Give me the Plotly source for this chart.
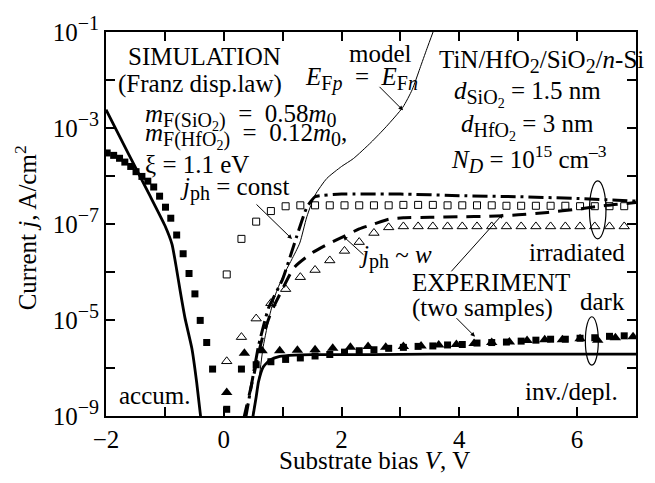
import plotly.graph_objects as go

# ---------------- data (current density j in A/cm^2) ----------------
# experiment, dark: filled squares
dark_sq_x = [-1.98, -1.87, -1.77, -1.68, -1.58, -1.49, -1.39, -1.29, -1.19, -1.09,
             -0.99, -0.90, -0.80, -0.69, -0.59, -0.49, -0.40, -0.29, -0.19,
             0.05, 0.30, 0.55, 0.80, 1.05, 1.30, 1.55, 1.80, 2.05, 2.30, 2.55, 2.80,
             3.05, 3.30, 3.55, 3.80, 4.05, 4.30, 4.55, 4.80, 5.05, 5.30, 5.55, 5.80,
             6.05, 6.30, 6.55, 6.80]
dark_sq_j = [3.02e-4, 2.69e-4, 2.34e-4, 1.95e-4, 1.58e-4, 1.23e-4, 9.8e-5, 7.8e-5, 5.9e-5, 3.8e-5,
             2.24e-5, 1.32e-5, 5.9e-6, 2.4e-6, 9.3e-7, 3.5e-7, 9.8e-8, 3.4e-8, 9.5e-9,
             1.38e-9, 9.5e-9, 1.17e-8, 1.35e-8, 1.51e-8, 1.62e-8, 1.78e-8, 1.91e-8, 2.14e-8, 2.29e-8, 2.40e-8, 2.57e-8,
             2.69e-8, 2.82e-8, 2.88e-8, 3.02e-8, 3.09e-8, 3.31e-8, 3.39e-8, 3.47e-8, 3.63e-8, 3.80e-8, 3.98e-8, 3.98e-8,
             4.17e-8, 4.27e-8, 4.57e-8, 4.68e-8]

# experiment, dark: filled triangles
dark_tri_x = [0.05, 0.35, 0.65, 0.95, 1.25, 1.55, 1.85, 2.15, 2.45, 2.75, 3.05, 3.35,
              3.65, 3.95, 4.25, 4.55, 4.85, 5.15, 5.45, 5.75, 6.05, 6.35, 6.65, 6.95]
dark_tri_j = [3.1e-9, 2.04e-8, 2.29e-8, 2.29e-8, 2.34e-8, 2.40e-8, 2.57e-8, 2.69e-8, 2.82e-8, 2.69e-8, 2.82e-8, 2.88e-8,
              3.02e-8, 3.09e-8, 3.24e-8, 3.39e-8, 3.47e-8, 3.72e-8, 3.89e-8, 3.89e-8, 4.07e-8, 3.80e-8, 4.27e-8, 4.47e-8]

# experiment, irradiated: open squares
irr_sq_x = [0.05, 0.30, 0.55, 0.80, 1.05, 1.30, 1.55, 1.80, 2.05, 2.30, 2.55, 2.80, 3.05, 3.30,
            3.55, 3.80, 4.05, 4.30, 4.55, 4.80, 5.05, 5.30, 5.55, 5.80, 6.05, 6.30, 6.55, 6.80]
irr_sq_j = [8.9e-7, 4.9e-6, 1.12e-5, 1.86e-5, 2.34e-5, 2.45e-5, 2.45e-5, 2.45e-5, 2.45e-5, 2.45e-5, 2.45e-5, 2.45e-5, 2.50e-5, 2.50e-5,
            2.50e-5, 2.45e-5, 2.45e-5, 2.45e-5, 2.45e-5, 2.40e-5, 2.40e-5, 2.40e-5, 2.40e-5, 2.40e-5, 2.35e-5, 2.35e-5, 2.35e-5, 2.35e-5]

# experiment, irradiated: open triangles
irr_tri_x = [0.05, 0.30, 0.55, 0.80, 1.05, 1.30, 1.55, 1.80, 2.05, 2.30, 2.55, 2.80, 3.05, 3.30,
             3.55, 3.80, 4.05, 4.30, 4.55, 4.80, 5.05, 5.30, 5.55, 5.80, 6.05, 6.30, 6.55, 6.80]
irr_tri_j = [1.38e-8, 4.4e-8, 1.07e-7, 2.24e-7, 4.4e-7, 7.8e-7, 1.10e-6, 1.74e-6, 2.75e-6, 4.2e-6, 6.5e-6, 8.5e-6, 8.9e-6, 8.9e-6,
             8.9e-6, 8.9e-6, 8.9e-6, 8.9e-6, 8.9e-6, 8.9e-6, 8.9e-6, 8.9e-6, 8.9e-6, 8.9e-6, 8.9e-6, 8.9e-6, 8.9e-6, 8.9e-6]

# simulation, dark (thick solid), accumulation and inversion branches
sim_dark_left_x = [-2.0, -1.75, -1.5, -1.25, -1.0, -0.88, -0.80, -0.74, -0.66, -0.54, -0.46, -0.39]
sim_dark_left_j = [2.4e-3, 6.0e-4, 1.51e-4, 3.8e-5, 9.3e-6, 3.8e-6, 1.12e-6, 4.0e-7, 1.12e-7, 2.5e-8, 5.0e-9, 9.0e-10]
sim_dark_right_x = [0.49, 0.55, 0.59, 0.67, 0.78, 0.95, 1.2, 1.5, 2.5, 3.5, 5.0, 7.0]
sim_dark_right_j = [8.9e-10, 2.5e-9, 5.2e-9, 1.05e-8, 1.45e-8, 1.74e-8, 1.86e-8, 1.90e-8, 1.90e-8, 1.95e-8, 1.95e-8, 1.95e-8]

# simulation, model E_Fp = E_Fn (thin solid)
model_x = [0.48, 0.59, 0.67, 0.78, 0.87, 1.0, 1.15, 1.29, 1.41, 1.55, 1.75, 2.0, 2.2, 2.5,
           2.76, 3.04, 3.2, 3.33, 3.45, 3.56]
model_j = [8.9e-10, 5.0e-9, 2.8e-8, 1.26e-7, 3.2e-7, 7.9e-7, 1.78e-6, 4.0e-6, 1.41e-5, 4.0e-5,
           8.9e-5, 1.58e-4, 2.3e-4, 5.0e-4, 1.07e-3, 2.7e-3, 6.3e-3, 1.74e-2, 4.5e-2, 1.05e-1]

# simulation, irradiated, j_ph = const (dash-dot)
const_x = [0.37, 0.45, 0.59, 0.76, 1.0, 1.24, 1.41, 1.55, 2.0, 3.0, 4.0, 5.0, 6.0, 7.0]
const_j = [8.9e-10, 3.2e-9, 2.9e-8, 1.78e-7, 7.1e-7, 5.6e-6, 2.24e-5, 3.7e-5, 4.2e-5, 4.2e-5, 3.9e-5, 3.7e-5, 3.4e-5, 3.0e-5]

# simulation, irradiated, j_ph ~ w (dashed)
w_x = [0.34, 0.5, 0.65, 0.8, 0.98, 1.2, 1.5, 1.8, 2.05, 2.3, 2.55, 2.8, 3.05, 3.5, 4.0, 4.5,
       5.0, 5.5, 6.0, 6.5, 7.0]
w_j = [8.9e-10, 6.3e-9, 4.0e-8, 1.41e-7, 4.0e-7, 1.26e-6, 2.5e-6, 4.0e-6, 5.6e-6, 7.9e-6, 1.0e-5,
       1.26e-5, 1.35e-5, 1.38e-5, 1.41e-5, 1.45e-5, 1.55e-5, 1.74e-5, 2.04e-5, 2.45e-5, 2.8e-5]

x_tickvals = [-2, -1, 0, 1, 2, 3, 4, 5, 6]
x_ticktext = ["\u22122", "", "0", "", "2", "", "4", "", "6"]
y_tickvals = [1e-9, 1e-8, 1e-7, 1e-6, 1e-5, 1e-4, 1e-3, 1e-2, 1e-1]
y_tick_exponents = ["\u22129", "", "\u22125", "", "\u22127", "", "\u22123", "", "\u22121"]

# ---------------- figure ----------------
FONT = "Liberation Serif"
FS = 25
W, H = 655, 483
L, R, T, B = 106, 636, 19, 416

y_ticktext = [("10<sup><span style='font-size:20px'>%s</span></sup>" % e) if e else "" for e in y_tick_exponents]

fig = go.Figure()

fig.add_trace(go.Scatter(x=sim_dark_left_x, y=sim_dark_left_j, mode="lines",
                         line=dict(color="black", width=2.8, shape="spline", smoothing=0.5)))
fig.add_trace(go.Scatter(x=sim_dark_right_x, y=sim_dark_right_j, mode="lines",
                         line=dict(color="black", width=2.8, shape="spline", smoothing=0.5)))
fig.add_trace(go.Scatter(x=model_x, y=model_j, mode="lines",
                         line=dict(color="black", width=1, shape="spline", smoothing=0.6)))
fig.add_trace(go.Scatter(x=const_x, y=const_j, mode="lines",
                         line=dict(color="black", width=3, dash="15px,5px,3px,5px", shape="spline", smoothing=0.4)))
fig.add_trace(go.Scatter(x=w_x, y=w_j, mode="lines",
                         line=dict(color="black", width=3, dash="14px,9px", shape="spline", smoothing=0.6)))

fig.add_trace(go.Scatter(x=irr_sq_x, y=irr_sq_j, mode="markers",
                         marker=dict(symbol="square-open", size=7, color="black", line=dict(width=1))))
fig.add_trace(go.Scatter(x=irr_tri_x, y=irr_tri_j, mode="markers",
                         marker=dict(symbol="triangle-up-open", size=9, color="black", line=dict(width=1))))
fig.add_trace(go.Scatter(x=dark_sq_x, y=dark_sq_j, mode="markers",
                         marker=dict(symbol="square", size=7, color="black")))
fig.add_trace(go.Scatter(x=dark_tri_x, y=dark_tri_j, mode="markers",
                         marker=dict(symbol="triangle-up", size=10, color="black")))


def P(xp, yp):
    return (xp - L) / (R - L), (B - yp) / (B - T)


def sb(s, size=20):
    return "<sub><span style='font-size:%dpx'>%s</span></sub>" % (size, s)


annots = []


def text(s, xp, yp, xanchor="center", size=FS, angle=0):
    px, py = P(xp, yp)
    annots.append(dict(text=s, x=px, y=py, xref="paper", yref="paper", showarrow=False,
                       xanchor=xanchor, yanchor="middle", textangle=angle,
                       font=dict(family=FONT, size=size, color="black")))


def arrow(hx, hy, tx, ty):
    px, py = P(hx, hy)
    annots.append(dict(text="", x=px, y=py, xref="paper", yref="paper", showarrow=True,
                       ax=tx - hx, ay=ty - hy, arrowhead=2, arrowsize=0.9, arrowwidth=1,
                       arrowcolor="black"))


EQ = "\u2002=\u2002"

text("SIMULATION", 204, 44)
text("(Franz disp.law)", 200, 73)
text("model", 380, 41)
text("<i>E</i>" + sb("F<i>p</i>") + EQ + "<i>E</i>" + sb("F<i>n</i>"), 361, 68)
text("<i>m</i>" + sb("F(SiO<sub>2</sub>)") + EQ + "0.58<i>m</i>" + sb("0"), 143, 107, xanchor="left")
text("<i>m</i>" + sb("F(HfO<sub>2</sub>)") + EQ + "0.12<i>m</i>" + sb("0") + ",", 143, 127, xanchor="left")
text("\u03be = 1.1 eV", 143, 156, xanchor="left")
text("<i>j</i>" + sb("ph") + " = const", 178, 181, xanchor="left")
text("TiN/HfO" + sb("2") + "/SiO" + sb("2") + "/<i>n</i>-Si", 541, 50)
text("<i>d</i>" + sb("SiO<sub>2</sub>") + " = 1.5 nm", 527, 83)
text("<i>d</i>" + sb("HfO<sub>2</sub>") + " = 3 nm", 527, 117)
text("<i>N</i>" + sb("<i>D</i>") + " = 10<sup>15</sup> cm<sup>\u20133</sup>", 529, 150)
text("<i>j</i>" + sb("ph") + " ~ <i>w</i>", 357, 252, xanchor="left")
text("irradiated", 577, 247)
text("EXPERIMENT", 491, 278)
text("(two samples)", 482, 304)
text("dark", 602, 298)
text("inv./depl.", 571, 391)
text("accum.", 154, 395)
text("Substrate bias <i>V</i>, V", 374, 462)
text("Current <i>j</i>, A/cm<sup>2</sup>", 26, 222, angle=-90)

arrow(403, 100, 378, 75)
arrow(292, 233, 255, 197)
arrow(343, 230, 365, 250)
arrow(503, 207, 450, 266)
arrow(475, 334, 455, 314)

shapes = [
    dict(type="circle", xref="x", yref="y", x0=6.21, x1=6.49, y0=4.9e-6, y1=7.9e-5,
         line=dict(color="black", width=1.2)),
    dict(type="circle", xref="x", yref="y", x0=6.14, x1=6.36, y0=1.15e-8, y1=1.17e-7,
         line=dict(color="black", width=1.2)),
]

axis_common = dict(showgrid=False, zeroline=False, showline=True, linecolor="black", linewidth=2,
                   mirror="ticks", ticks="inside", ticklen=9, tickwidth=1.5, tickcolor="black",
                   ticklabeloverflow="allow",
                   tickfont=dict(family=FONT, size=FS, color="black"))

fig.update_layout(
    width=W, height=H,
    margin=dict(l=L, r=W - R, t=T, b=H - B, pad=0),
    paper_bgcolor="white", plot_bgcolor="white",
    showlegend=False,
    font=dict(family=FONT, size=FS, color="black"),
    xaxis=dict(range=[-2, 7], tickmode="array", tickvals=x_tickvals, ticktext=x_ticktext, **axis_common),
    yaxis=dict(type="log", range=[-9, -1], tickmode="array", tickvals=y_tickvals, ticktext=y_ticktext,
               **axis_common),
    annotations=annots,
    shapes=shapes,
)

fig.write_html("out.html")
